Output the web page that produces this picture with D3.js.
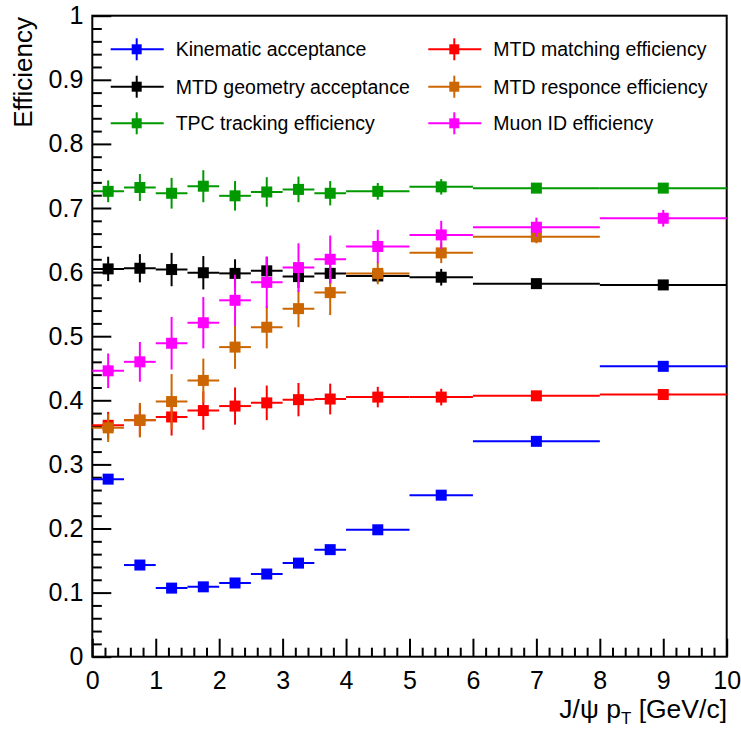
<!DOCTYPE html>
<html>
<head>
<meta charset="utf-8">
<script src="https://cdn.jsdelivr.net/npm/d3@7"></script>
<style>
  html, body { margin: 0; padding: 0; background: #fff; }
  svg { display: block; font-family: "Liberation Sans", Arial, Helvetica, sans-serif; }
</style>
</head>
<body>
<svg id="chart" width="741" height="730"></svg>
<script>
// pT bins (GeV/c)
const binLo = [0, 0.5, 1, 1.5, 2, 2.5, 3, 3.5, 4, 5, 6, 8];
const binHi = [0.5, 1, 1.5, 2, 2.5, 3, 3.5, 4, 5, 6, 8, 10];

// Efficiency per bin and its uncertainty
const kinematic    = [0.277, 0.143, 0.107, 0.109, 0.115, 0.129, 0.146, 0.167, 0.198, 0.252, 0.336, 0.453];
const kinematicErr = [0.002, 0.002, 0.002, 0.002, 0.002, 0.002, 0.002, 0.002, 0.002, 0.002, 0.002, 0.002];
const matching     = [0.361, 0.369, 0.374, 0.384, 0.391, 0.396, 0.401, 0.402, 0.405, 0.405, 0.407, 0.409];
const matchingErr  = [0.021, 0.025, 0.029, 0.030, 0.029, 0.027, 0.026, 0.024, 0.016, 0.013, 0.004, 0.005];
const geometry     = [0.605, 0.606, 0.604, 0.599, 0.598, 0.602, 0.593, 0.598, 0.594, 0.592, 0.582, 0.580];
const geometryErr  = [0.019, 0.022, 0.026, 0.026, 0.022, 0.022, 0.018, 0.016, 0.010, 0.013, 0.005, 0.005];
const responce     = [0.357, 0.369, 0.398, 0.431, 0.483, 0.514, 0.543, 0.568, 0.598, 0.630, 0.655];
const responceErr  = [0.022, 0.027, 0.043, 0.034, 0.034, 0.033, 0.029, 0.035, 0.017, 0.016, 0.010];
const tpc          = [0.726, 0.732, 0.723, 0.734, 0.719, 0.725, 0.729, 0.723, 0.726, 0.733, 0.731, 0.731];
const tpcErr       = [0.017, 0.021, 0.024, 0.025, 0.023, 0.023, 0.020, 0.019, 0.013, 0.012, 0.005, 0.005];
const muonId       = [0.446, 0.460, 0.489, 0.521, 0.556, 0.584, 0.607, 0.620, 0.640, 0.658, 0.670, 0.684];
const muonIdErr    = [0.027, 0.031, 0.041, 0.040, 0.040, 0.040, 0.038, 0.037, 0.026, 0.022, 0.015, 0.013];

// Axis tick labels
const xTicks = [0, 1, 2, 3, 4, 5, 6, 7, 8, 9, 10];
const yTicks = [0, 0.1, 0.2, 0.3, 0.4, 0.5, 0.6, 0.7, 0.8, 0.9, 1];
const yTickLabels = ["0", "0.1", "0.2", "0.3", "0.4", "0.5", "0.6", "0.7", "0.8", "0.9", "1"];

// Series in drawing order (legend is filled row by row in two columns)
const seriesNames  = ["Kinematic acceptance", "MTD matching efficiency", "MTD geometry acceptance",
                      "MTD responce efficiency", "TPC tracking efficiency", "Muon ID efficiency"];
const seriesColors = ["#0000ff", "#ff0000", "#000000", "#cc6600", "#009900", "#ff00ff"];
const seriesValues = [kinematic, matching, geometry, responce, tpc, muonId];
const seriesErrors = [kinematicErr, matchingErr, geometryErr, responceErr, tpcErr, muonIdErr];

const svg = d3.select("#chart");
const frame = { left: 92.3, right: 726.7, top: 15.7, bottom: 656.7 };

const x = d3.scaleLinear().domain([0, 10]).range([frame.left, frame.right]);
const y = d3.scaleLinear().domain([0, 1]).range([frame.bottom, frame.top]);

const fontAxis = 25;

// Minor ticks
const yMinor = d3.range(0, 1.0001, 0.02).filter(v => Math.abs(v * 10 - Math.round(v * 10)) > 1e-6);
const xMinor = d3.range(0, 10.0001, 0.2).filter(v => Math.abs(v - Math.round(v)) > 1e-6);

const yMinorAxis = svg.append("g").attr("transform", `translate(${frame.left},0)`)
  .call(d3.axisLeft(y).tickValues(yMinor).tickSize(-9.5).tickFormat(""));
const xMinorAxis = svg.append("g").attr("transform", `translate(0,${frame.bottom})`)
  .call(d3.axisBottom(x).tickValues(xMinor).tickSize(-9).tickFormat(""));

const yAxis = svg.append("g").attr("transform", `translate(${frame.left},0)`)
  .call(d3.axisLeft(y).tickValues(yTicks).tickSize(-19).tickPadding(9)
    .tickFormat((d, i) => yTickLabels[i]));
const xAxis = svg.append("g").attr("transform", `translate(0,${frame.bottom})`)
  .call(d3.axisBottom(x).tickValues(xTicks).tickSize(-18).tickPadding(15).tickFormat(d3.format("d")));

[yMinorAxis, xMinorAxis, yAxis, xAxis].forEach(g => {
  g.select(".domain").remove();
  g.selectAll(".tick line").attr("stroke", "#000").attr("stroke-width", 2);
  g.selectAll(".tick text").attr("fill", "#000").attr("font-size", fontAxis)
    .attr("font-family", "'Liberation Sans', Arial, Helvetica, sans-serif");
});

// Frame
svg.append("rect")
  .attr("x", frame.left).attr("y", frame.top)
  .attr("width", frame.right - frame.left).attr("height", frame.bottom - frame.top)
  .attr("fill", "none").attr("stroke", "#000").attr("stroke-width", 2);

// Axis titles
svg.append("text")
  .attr("transform", `translate(32,17) rotate(-90)`)
  .attr("text-anchor", "end")
  .attr("font-size", 26)
  .text("Efficiency");

const xt = svg.append("text")
  .attr("x", 727).attr("y", 718)
  .attr("text-anchor", "end")
  .attr("font-size", 26.5);
xt.append("tspan").text("J/\u03C8 p");
xt.append("tspan").attr("font-size", 17).attr("dy", 6).text("T");
xt.append("tspan").attr("dy", -6).text(" [GeV/c]");

// Data points with error bars
const markerSize = 11;
seriesValues.forEach((vals, s) => {
  const color = seriesColors[s];
  const errs = seriesErrors[s];
  const pts = vals.map((v, i) => ({ lo: binLo[i], hi: binHi[i], v: v, e: errs[i] }));
  const g = svg.append("g");
  g.selectAll("line.h").data(pts).join("line").attr("class", "h")
    .attr("x1", d => x(d.lo)).attr("x2", d => x(d.hi))
    .attr("y1", d => y(d.v)).attr("y2", d => y(d.v))
    .attr("stroke", color).attr("stroke-width", 2);
  g.selectAll("line.v").data(pts).join("line").attr("class", "v")
    .attr("x1", d => x((d.lo + d.hi) / 2)).attr("x2", d => x((d.lo + d.hi) / 2))
    .attr("y1", d => y(d.v - d.e)).attr("y2", d => y(d.v + d.e))
    .attr("stroke", color).attr("stroke-width", 2);
  g.selectAll("rect").data(pts).join("rect")
    .attr("x", d => x((d.lo + d.hi) / 2) - markerSize / 2)
    .attr("y", d => y(d.v) - markerSize / 2)
    .attr("width", markerSize).attr("height", markerSize)
    .attr("fill", color);
});

// Legend: two columns, three rows
const legendCols = [136.7, 454.3];
const legendRows = [49.3, 86.7, 123.3];
const legendMarker = 10;
seriesNames.forEach((name, s) => {
  const cx = legendCols[s % 2];
  const cy = legendRows[Math.floor(s / 2)];
  const color = seriesColors[s];
  const g = svg.append("g");
  g.append("line").attr("x1", cx - 26).attr("x2", cx + 27).attr("y1", cy).attr("y2", cy)
    .attr("stroke", color).attr("stroke-width", 2);
  g.append("line").attr("x1", cx).attr("x2", cx).attr("y1", cy - 11).attr("y2", cy + 11)
    .attr("stroke", color).attr("stroke-width", 2);
  g.append("rect").attr("x", cx - legendMarker / 2).attr("y", cy - legendMarker / 2)
    .attr("width", legendMarker).attr("height", legendMarker).attr("fill", color);
  g.append("text").attr("x", cx + 39).attr("y", cy).attr("dy", "0.36em")
    .attr("font-size", 19.5).attr("fill", "#000").text(name);
});
</script>
</body>
</html>
